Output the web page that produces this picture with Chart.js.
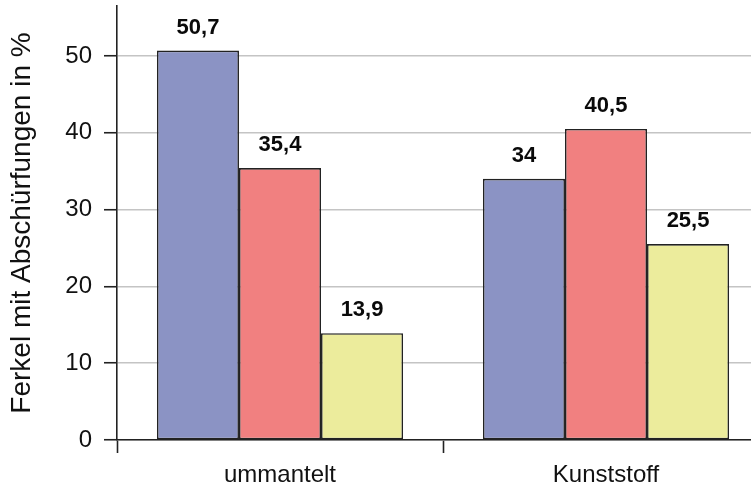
<!DOCTYPE html>
<html>
<head>
<meta charset="utf-8">
<script src="https://cdn.jsdelivr.net/npm/chart.js@4"></script>
<style>
  html, body { margin: 0; padding: 0; background: #fff; }
  #wrap { width: 751px; height: 492px; overflow: hidden; }
  canvas { display: block; }
</style>
</head>
<body>
<div id="wrap"><canvas id="myChart" width="769" height="492"></canvas></div>
<script>
(function () {
    'use strict'

    var categories = ['ummantelt', 'Kunststoff']
    var serieA = [50.7, 34]
    var serieB = [35.4, 40.5]
    var serieC = [13.9, 25.5]
    var yTicks = [0, 10, 20, 30, 40, 50]

    var font = "'Liberation Sans', Arial, sans-serif"

    // value labels above each bar, decimal comma
    var barLabels = {
        id: 'barLabels',
        afterDatasetsDraw: function (chart) {
            var ctx = chart.ctx
            ctx.save()
            ctx.font = 'bold 22px ' + font
            ctx.fillStyle = '#0a0a0a'
            ctx.textAlign = 'center'
            ctx.textBaseline = 'alphabetic'
            chart.data.datasets.forEach(function (ds, i) {
                chart.getDatasetMeta(i).data.forEach(function (bar, j) {
                    var txt = String(ds.data[j]).replace('.', ',')
                    ctx.fillText(txt, bar.x, bar.y - 17)
                })
            })
            ctx.restore()
        }
    }

    var ctx = document.getElementById('myChart')
    // eslint-disable-next-line no-unused-vars
    var myChart = new Chart(ctx, {
        type: 'bar',
        data: {
            labels: categories,
            datasets: [{
                label: 'A',
                data: serieA,
                backgroundColor: 'rgb(139,147,196)'
            }, {
                label: 'B',
                data: serieB,
                backgroundColor: 'rgb(241,128,128)'
            }, {
                label: 'C',
                data: serieC,
                backgroundColor: 'rgb(236,236,156)'
            }]
        },
        options: {
            responsive: false,
            animation: false,
            events: [],
            layout: { padding: { top: 6, left: 0, right: 0, bottom: 0 } },
            datasets: {
                bar: {
                    borderColor: '#222',
                    borderWidth: 1.6,
                    borderSkipped: false,
                    categoryPercentage: 0.755,
                    barPercentage: 1
                }
            },
            plugins: {
                legend: { display: false },
                tooltip: { enabled: false }
            },
            scales: {
                x: {
                    grid: {
                        offset: true,
                        drawOnChartArea: false,
                        tickLength: 13,
                        tickColor: '#222',
                        tickWidth: 1.6
                    },
                    border: { color: '#222', width: 1.6, z: 1 },
                    ticks: {
                        color: '#111',
                        padding: 8,
                        font: { family: font, size: 24 }
                    },
                    afterFit: function (scale) {
                        scale.height = 52
                        scale.paddingLeft = 0
                        scale.paddingRight = 0
                    }
                },
                y: {
                    min: 0,
                    max: 56.5,
                    afterBuildTicks: function (scale) {
                        scale.ticks = yTicks.map(function (v) { return { value: v } })
                    },
                    grid: {
                        color: '#c4c4c4',
                        lineWidth: 1.5,
                        tickLength: 13,
                        tickColor: '#222',
                        tickWidth: 1.6
                    },
                    border: { color: '#222', width: 1.6, z: 1 },
                    ticks: {
                        color: '#111',
                        padding: 12,
                        font: { family: font, size: 24 }
                    },
                    title: {
                        display: true,
                        text: 'Ferkel mit Abschürfungen in %',
                        color: '#111',
                        padding: { top: 5, bottom: 0 },
                        font: { family: font, size: 28 }
                    },
                    afterFit: function (scale) {
                        scale.width = 117
                        scale.paddingTop = 0
                        scale.paddingBottom = 0
                    }
                }
            }
        },
        plugins: [barLabels]
    })
})()
</script>
</body>
</html>
